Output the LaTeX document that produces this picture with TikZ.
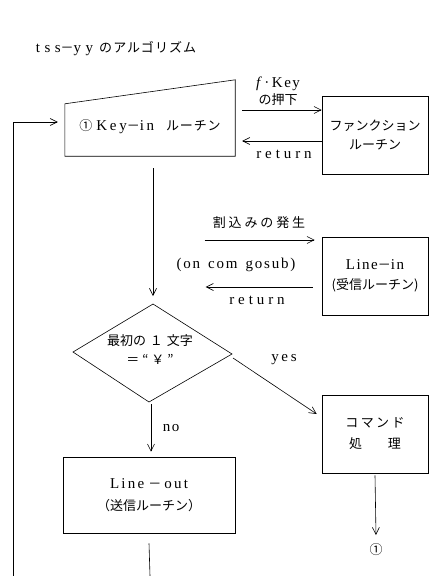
\documentclass[tikz,border=0pt]{standalone}
\usepackage{fontspec}
\setmainfont{Liberation Serif}
\newfontfamily\jpf{Noto Sans CJK JP}
\newcommand\myls[2]{{\addfontfeature{LetterSpace=#1}#2}}
\newcommand\jp[1]{{\jpf\fontsize{13}{15}\selectfont #1}}
\usetikzlibrary{arrows.meta}
\begin{document}
\begin{tikzpicture}[x=1pt,y=-1pt,
  arr/.style={-{Straight Barb[length=7pt,width=7pt]}, line width=0.6pt},
  ln/.style={line width=0.6pt},
  box/.style={draw, line width=0.6pt, minimum width=106pt, minimum height=78pt, inner sep=0pt, align=center, font=\fontsize{15}{16}\selectfont},
  lbl/.style={inner sep=0pt, align=center, font=\fontsize{15}{16}\selectfont},
]
\useasboundingbox (0,0) rectangle (429,576);

% title
\node[lbl] (title) at (116,49) {\myls{30}{tss}\jp{－}\myls{30}{yy}\hspace{6pt}\jp{\myls{8}{のアルゴリズム}}};

% Key-in (trapezoid)
\node[minimum width=170pt, minimum height=76pt, inner sep=0pt] (keyin) at (150,118) {};
\draw[ln] (keyin.south west) -- (keyin.south east) -- (keyin.north east) -- ([yshift=-24pt]keyin.north west) -- cycle;
\node[lbl] (kt) at (150,127) {\jp{①}\hspace{4pt}\myls{18}{Key}\jp{－}\myls{18}{in}\hspace{12pt}\jp{\myls{6}{ルーチン}}};

% function routine
\node[box] (func) at (375,135) {\jp{ファンクション}\\[3pt]\jp{ルーチン}};
\node[lbl] (fk) at (278,91) {\textit{f}\,·\,\myls{10}{Key}\\[1pt]\jp{の押下}};
\node[lbl] (ret1) at (284,154) {\myls{26}{return}};
\draw[arr] ([xshift=7pt,yshift=8pt]keyin.east) -- ([yshift=25pt]func.west);
\draw[arr] ([yshift=-6pt]func.west) -- ([xshift=7pt,yshift=-23pt]keyin.east);

% Line-in
\node[box] (linein) at (375,276) {\myls{10}{Line}\jp{－}\myls{10}{in}\\[4pt]\jp{(受信ルーチン)}};
\node[lbl] (intr) at (259,223) {\jp{\myls{22}{割込みの発生}}};
\node[lbl] (gosub) at (236,265) {\myls{12}{(on}\hspace{8pt}\myls{12}{com}\hspace{8pt}\myls{12}{gosub)}};
\node[lbl] (ret2) at (257,300) {\myls{26}{return}};
\draw[arr] ([xshift=-117pt,yshift=36pt]linein.west) -- ([xshift=-7pt,yshift=36pt]linein.west);
\draw[arr] ([xshift=-9pt,yshift=-11pt]linein.west) -- ([xshift=-116pt,yshift=-11pt]linein.west);

% decision diamond
\coordinate (dT) at (153,304);
\coordinate (dR) at (232,354);
\coordinate (dB) at (149,402);
\coordinate (dL) at (73,352);
\draw[ln] (dT) -- (dR) -- (dB) -- (dL) -- cycle;
\node[lbl] (dtext) at (150,350) {\jp{最初の\hspace{4pt}１\hspace{4pt}文字}\\[3pt]\jp{＝\hspace{3pt}“\hspace{3pt}￥\hspace{3pt}”}};
\draw[arr] ([xshift=3pt,yshift=-12pt]keyin.south) -- ([yshift=8pt]dT);

% command processing
\node[box] (cmd) at (375,434) {\jp{\myls{18}{コマンド}}\\[5pt]\jp{処\hspace{26pt}理}};
\node[lbl] (yes) at (284,360) {\myls{18}{yes}};
\draw[arr] ([xshift=1pt,yshift=-4pt]dR) -- ([xshift=-5pt,yshift=20pt]cmd.west);
\node[lbl] (c1) at (376,550) {\jp{①}};
\draw[arr] ([yshift=-2pt]cmd.south) -- ([yshift=15pt]c1.center);

% Line-out
\node[box, minimum width=172pt, minimum height=76pt] (lineout) at (149,495) {\myls{15}{Line}\hspace{4pt}\jp{－}\hspace{3pt}\myls{15}{out}\\[6pt]\jp{（送信ルーチン）}};
\node[lbl] (no) at (171,428) {\myls{10}{no}};
\draw[arr] ([xshift=2pt,yshift=-2pt]dB) -- ([xshift=2pt,yshift=5pt]lineout.north);

% loop back
\coordinate (loopbot) at (13,576);
\coordinate (outbot) at (150,576);
\draw[ln] ([yshift=-10pt]lineout.south) -- (outbot);
\draw[arr] (loopbot) |- ([xshift=-7pt,yshift=-4pt]keyin.west);
\end{tikzpicture}
\end{document}
